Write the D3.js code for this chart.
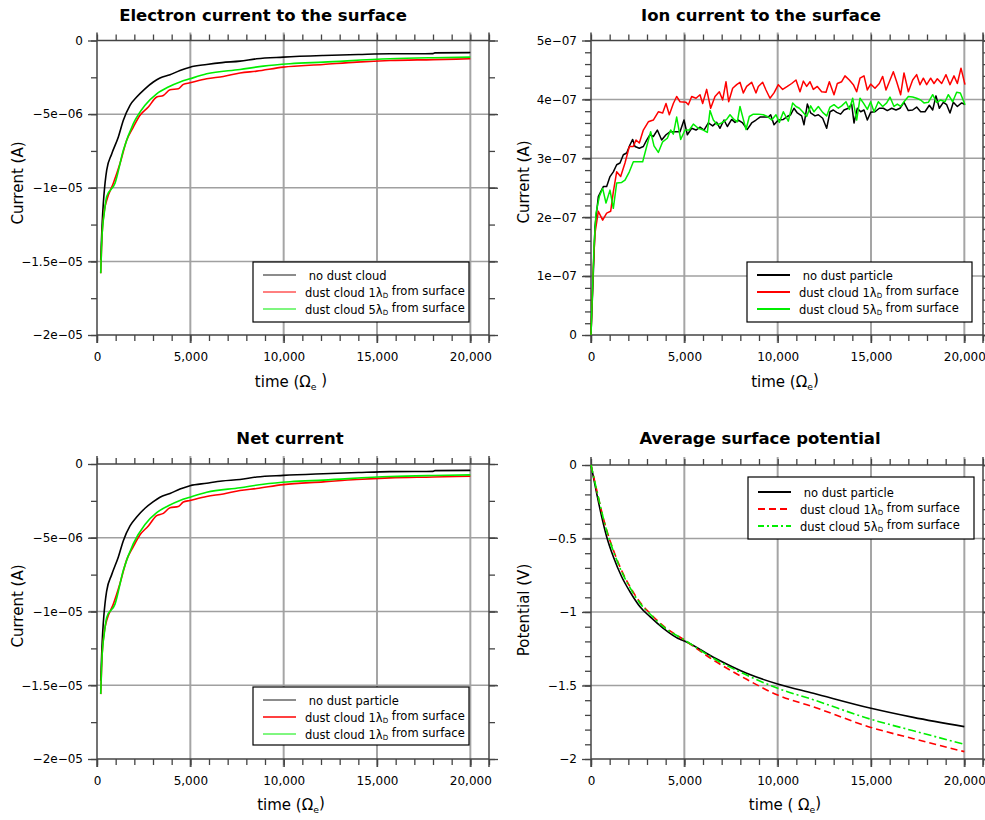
<!DOCTYPE html>
<html>
<head>
<meta charset="utf-8">
<script src="https://cdn.jsdelivr.net/npm/d3@7"></script>
<style>
  body { margin: 0; background: #fff; }
  svg { display: block; }
  text { font-family: "DejaVu Sans", Verdana, sans-serif; fill: #000; }
</style>
</head>
<body>
<svg id="chart" width="985" height="820"></svg>
<script>
// ---- time axis (units of electron gyro-periods) ----
const timeDomain = [0, 21000];
const timeMajor = [0, 5000, 10000, 15000, 20000];
const timeMajorLabels = ["0", "5,000", "10,000", "15,000", "20,000"];
const timeMinor = d3.range(0, 21001, 1000);

// ---- electron current to the surface (µA) : [time, current] ----
const electronNoDust = [[200,-14.9],[260,-12.9],[520,-8.8],[787,-7.7],[1143,-6.55],[1411,-5.42],[1768,-4.4],[2125,-3.84],[2571,-3.28],[3018,-2.82],[3375,-2.55],[3911,-2.33],[4446,-2.03],[4982,-1.81],[5875,-1.63],[6700,-1.5],[7661,-1.4],[8554,-1.24],[9982,-1.13],[12125,-1.02],[14000,-0.95],[15696,-0.9],[17000,-0.9],[18000,-0.89],[18100,-0.84],[20000,-0.82]];
const electronCloud1 = [[200,-15.8],[260,-13.5],[400,-11.5],[520,-10.85],[875,-9.7],[1232,-8.36],[1589,-6.78],[1946,-5.88],[2304,-5.08],[2750,-4.52],[3197,-3.84],[3554,-3.73],[3911,-3.35],[4357,-3.28],[4625,-2.98],[4982,-2.87],[5875,-2.6],[6768,-2.44],[7661,-2.21],[8554,-2.08],[9982,-1.81],[12125,-1.63],[13911,-1.47],[15696,-1.36],[18000,-1.3],[20000,-1.24]];
const electronCloud5 = [[200,-15.8],[260,-13.5],[400,-11.6],[520,-10.6],[964,-9.7],[1411,-7.46],[1946,-5.65],[2571,-4.4],[3197,-3.62],[3821,-3.16],[4446,-2.82],[4982,-2.6],[5875,-2.26],[7661,-1.97],[8911,-1.74],[10339,-1.58],[12125,-1.47],[15696,-1.24],[18000,-1.17],[20000,-1.13]];

// ---- ion current to the surface (1e-7 A) ----
const ionNoDust = [[0,0],[125,1.05],[214,1.84],[393,2.35],[518,2.43],[661,2.52],[839,2.52],[1018,2.69],[1196,2.77],[1375,2.89],[1554,2.92],[1732,3.06],[1911,3.09],[2089,3.23],[2232,3.32],[2357,3.2],[2589,3.17],[2804,3.2],[2982,3.31],[3161,3.4],[3339,3.37],[3554,3.48],[3786,3.31],[4018,3.4],[4232,3.45],[4500,3.45],[4768,3.45],[4982,3.65],[5161,3.4],[5393,3.51],[5625,3.48],[5839,3.53],[6054,3.48],[6286,3.6],[6518,3.55],[6732,3.61],[6911,3.51],[7125,3.65],[7304,3.54],[7536,3.66],[7714,3.61],[7893,3.65],[8125,3.6],[8375,3.49],[8607,3.6],[8839,3.65],[9054,3.7],[9268,3.7],[9500,3.7],[9625,3.74],[9804,3.57],[10036,3.65],[10304,3.66],[10518,3.71],[10696,3.74],[10875,3.85],[11054,3.77],[11286,3.72],[11411,3.57],[11589,3.92],[11768,3.77],[12000,3.72],[12179,3.74],[12411,3.68],[12625,3.51],[12804,3.79],[12982,3.82],[13161,3.78],[13375,3.75],[13554,3.82],[13786,3.85],[13964,3.92],[14089,3.6],[14268,3.85],[14446,3.79],[14625,3.82],[14804,3.65],[14982,3.78],[15214,3.79],[15446,3.85],[15661,3.85],[15875,3.81],[16107,3.85],[16339,3.82],[16554,3.85],[16768,3.95],[17000,3.81],[17232,3.82],[17446,3.87],[17661,3.79],[17893,3.79],[18125,3.9],[18304,3.82],[18482,4.06],[18661,3.85],[18875,3.95],[19054,3.91],[19232,3.77],[19411,3.95],[19625,3.88],[19857,3.94],[20036,3.91]];
const ionCloud1 = [[0,0],[125,1.16],[214,1.73],[393,2.1],[625,1.95],[839,2.07],[1054,2.1],[1196,2.43],[1375,2.77],[1589,2.69],[1821,2.92],[2054,3.2],[2268,3.2],[2411,3.31],[2589,3.26],[2804,3.48],[3071,3.62],[3339,3.65],[3607,3.79],[3839,3.77],[4018,3.93],[4196,3.74],[4411,3.93],[4589,4.05],[4768,3.96],[5089,3.95],[5214,3.91],[5393,4.05],[5625,4.02],[5839,4.08],[5982,3.93],[6196,4.17],[6411,3.85],[6643,4.05],[6875,4.13],[7054,3.99],[7232,4.3],[7375,3.96],[7589,4.19],[7804,4.25],[7982,4.29],[8161,4.11],[8339,4.22],[8607,4.29],[8839,4.11],[8964,4.22],[9196,4.29],[9375,4.16],[9589,4.02],[9804,4.11],[10036,4.25],[10268,4.17],[10518,4.22],[10750,4.27],[10982,4.33],[11196,4.13],[11375,4.31],[11554,4.22],[11732,4.3],[11911,4.17],[12125,4.22],[12357,4.13],[12589,4.12],[12768,4.3],[13018,4.08],[13196,4.27],[13429,4.3],[13607,4.4],[13839,4.33],[14054,4.25],[14232,4.13],[14411,4.36],[14625,4.4],[14804,4.16],[14982,4.26],[15214,4.19],[15446,4.27],[15625,4.39],[15804,4.16],[15982,4.3],[16196,4.47],[16375,4.3],[16589,4.08],[16768,4.45],[17000,4.13],[17232,4.33],[17446,4.42],[17625,4.25],[17804,4.36],[17982,4.25],[18196,4.36],[18375,4.27],[18554,4.35],[18786,4.27],[19018,4.42],[19232,4.25],[19446,4.4],[19625,4.27],[19821,4.53],[20036,4.25]];
const ionCloud5 = [[0,0],[161,1.5],[268,2.07],[446,2.35],[625,2.49],[804,2.24],[1018,2.46],[1196,2.15],[1375,2.58],[1643,2.59],[1821,2.63],[2054,2.77],[2268,2.94],[2482,2.94],[2768,2.94],[2982,3.2],[3196,3.45],[3375,3.21],[3607,3.1],[3839,3.28],[4089,3.34],[4268,3.48],[4411,3.41],[4589,3.7],[4804,3.32],[5036,3.48],[5268,3.48],[5482,3.58],[5750,3.51],[6018,3.48],[6232,3.44],[6375,3.81],[6554,3.65],[6768,3.57],[7000,3.6],[7268,3.66],[7446,3.74],[7661,3.66],[7839,3.62],[7982,3.88],[8161,3.66],[8304,3.49],[8482,3.71],[8696,3.75],[8964,3.75],[9232,3.74],[9446,3.71],[9679,3.65],[9911,3.74],[10089,3.61],[10304,3.79],[10571,3.63],[10804,3.94],[10982,3.88],[11161,3.85],[11339,3.79],[11554,3.71],[11768,3.89],[11946,3.79],[12179,3.88],[12411,3.78],[12625,3.72],[12804,3.87],[13018,3.91],[13250,3.85],[13429,3.89],[13661,3.96],[13839,3.83],[14018,4.02],[14232,3.65],[14411,4.02],[14589,3.94],[14804,3.83],[14982,3.96],[15161,3.79],[15393,3.96],[15625,3.88],[15839,3.94],[16018,4.04],[16232,3.88],[16411,3.92],[16589,3.88],[16768,3.96],[17000,4.05],[17232,4.04],[17446,4.02],[17661,3.99],[17839,3.94],[18071,3.95],[18304,4.08],[18518,3.95],[18732,3.99],[18964,3.96],[19143,4.08],[19375,3.96],[19589,4.12],[19786,4.11],[20036,3.91]];

// ---- net current (µA) ----
const netNoDust = [[200,-14.7],[260,-12.6],[520,-8.6],[787,-7.5],[1143,-6.3],[1411,-5.2],[1768,-4.2],[2125,-3.6],[2571,-3.0],[3018,-2.55],[3375,-2.25],[3911,-2.0],[4446,-1.7],[4982,-1.47],[5875,-1.3],[6700,-1.15],[7661,-1.05],[8554,-0.88],[9982,-0.77],[12125,-0.66],[14000,-0.58],[15696,-0.52],[17000,-0.51],[18000,-0.5],[18100,-0.45],[20000,-0.43]];
const netCloud1 = [[200,-15.6],[260,-13.3],[400,-11.3],[520,-10.6],[875,-9.5],[1232,-8.1],[1589,-6.5],[1946,-5.6],[2304,-4.8],[2750,-4.2],[3197,-3.5],[3554,-3.35],[3911,-2.97],[4357,-2.88],[4625,-2.58],[4982,-2.47],[5875,-2.2],[6768,-2.03],[7661,-1.8],[8554,-1.66],[9982,-1.4],[12125,-1.21],[13911,-1.05],[15696,-0.94],[18000,-0.88],[20000,-0.82]];
const netCloud5 = [[200,-15.6],[260,-13.3],[400,-11.4],[520,-10.4],[964,-9.5],[1411,-7.2],[1946,-5.4],[2571,-4.1],[3197,-3.3],[3821,-2.83],[4446,-2.47],[4982,-2.25],[5875,-1.91],[7661,-1.61],[8911,-1.37],[10339,-1.2],[12125,-1.09],[15696,-0.85],[18000,-0.78],[20000,-0.74]];

// ---- average surface potential (V) ----
const potNoDust = [[0,0],[304,-0.193],[571,-0.351],[839,-0.488],[1196,-0.624],[1643,-0.76],[2089,-0.862],[2625,-0.964],[3161,-1.032],[3875,-1.111],[4768,-1.186],[5000,-1.197],[6554,-1.308],[8339,-1.417],[10000,-1.49],[11911,-1.553],[15000,-1.655],[17268,-1.717],[20000,-1.78]];
const potCloud1 = [[0,0],[304,-0.17],[571,-0.317],[839,-0.442],[1196,-0.578],[1643,-0.719],[2089,-0.828],[2625,-0.934],[3161,-1.009],[3875,-1.095],[5000,-1.19],[6554,-1.327],[8339,-1.458],[10000,-1.565],[11911,-1.645],[15000,-1.785],[17268,-1.862],[20000,-1.95]];
const potCloud5 = [[0,0],[304,-0.17],[839,-0.447],[1196,-0.585],[1643,-0.726],[2089,-0.834],[2625,-0.941],[3161,-1.014],[3875,-1.1],[5000,-1.19],[6554,-1.315],[8339,-1.429],[10000,-1.519],[11911,-1.597],[15000,-1.73],[17268,-1.808],[20000,-1.9]];

// ---- y tick values and labels ----
const currentTicks = [0, -5, -10, -15, -20];
const currentTickLabels = ["0", "\u22125e\u221206", "\u22121e\u221205", "\u22121.5e\u221205", "\u22122e\u221205"];
const currentMinor = d3.range(-20, 0.01, 2.5);
const ionTicks = [0, 1, 2, 3, 4, 5];
const ionTickLabels = ["0", "1e\u221207", "2e\u221207", "3e\u221207", "4e\u221207", "5e\u221207"];
const ionMinor = d3.range(0, 5.01, 0.2);
const potTicks = [0, -0.5, -1, -1.5, -2];
const potTickLabels = ["0", "\u22120.5", "\u22121", "\u22121.5", "\u22122"];
const potMinor = d3.range(-2, 0.01, 0.1);

const svg = d3.select("#chart");
const RED = "#ff0000", GREEN = "#00ee00";

function addSubText(sel, parts) {
  // parts alternate: normal text, subscript, normal text ...
  parts.forEach((p, i) => {
    const t = sel.append("tspan").text(p);
    if (i % 2 === 1) t.attr("font-size", "0.62em").attr("dy", "0.28em");
    else if (i > 0) t.attr("dy", "-0.28em");
  });
}

function drawPanel(p) {
  const g = svg.append("g");
  const x = d3.scaleLinear().domain(timeDomain).range([p.left, p.right]);
  const y = d3.scaleLinear().domain(p.yDomain).range([p.bottom, p.top]);
  const [y0, y1] = p.yDomain;

  // grid
  g.append("g").selectAll("line").data(timeMajor.filter(t => t > 0)).join("line")
    .attr("x1", d => x(d)).attr("x2", d => x(d))
    .attr("y1", p.top - 8).attr("y2", p.bottom + 8)
    .attr("stroke", "#a5a5a5").attr("stroke-width", 2);
  g.append("g").selectAll("line").data(p.yTicks.filter(v => v !== y0 && v !== y1)).join("line")
    .attr("x1", p.left - 8).attr("x2", p.right + 8)
    .attr("y1", d => y(d)).attr("y2", d => y(d))
    .attr("stroke", "#a0a0a0").attr("stroke-width", 1.5);

  // axes: labelled left/bottom, plain top/right
  const styleAxis = a => {
    a.select(".domain").remove();
    a.selectAll(".tick line").attr("stroke", "#444").attr("stroke-width", 1.3);
    a.selectAll("text").attr("font-family", "DejaVu Sans").attr("font-size", 12).attr("fill", "#000");
  };
  const yLabelOf = d => p.yTickLabels[p.yTicks.indexOf(d)];
  const xLabelOf = d => timeMajorLabels[timeMajor.indexOf(d)];

  g.append("g").attr("transform", `translate(0,${p.bottom})`)
    .call(d3.axisBottom(x).tickValues(timeMinor).tickSize(6).tickFormat("")).call(styleAxis);
  g.append("g").attr("transform", `translate(0,${p.bottom})`)
    .call(d3.axisBottom(x).tickValues(timeMajor).tickSize(8).tickPadding(9).tickFormat(xLabelOf)).call(styleAxis);
  g.append("g").attr("transform", `translate(0,${p.top})`)
    .call(d3.axisTop(x).tickValues(timeMinor).tickSize(6).tickFormat("")).call(styleAxis);
  g.append("g").attr("transform", `translate(${p.left},0)`)
    .call(d3.axisLeft(y).tickValues(p.yMinor).tickSize(6).tickFormat("")).call(styleAxis);
  g.append("g").attr("transform", `translate(${p.left},0)`)
    .call(d3.axisLeft(y).tickValues(p.yTicks).tickSize(9).tickPadding(5).tickFormat(yLabelOf)).call(styleAxis);
  g.append("g").attr("transform", `translate(${p.right},0)`)
    .call(d3.axisRight(y).tickValues(p.yMinor).tickSize(6).tickFormat("")).call(styleAxis);
  g.append("g").attr("transform", `translate(${p.right},0)`)
    .call(d3.axisRight(y).tickValues(p.yTicks).tickSize(9).tickFormat("")).call(styleAxis);

  // frame
  const frame = g.append("g").attr("stroke", "#444").attr("stroke-width", 1.5);
  frame.append("line").attr("x1", p.left).attr("x2", p.left).attr("y1", p.top - 8).attr("y2", p.bottom + 8);
  frame.append("line").attr("x1", p.right).attr("x2", p.right).attr("y1", p.top - 8).attr("y2", p.bottom + 8);
  frame.append("line").attr("x1", p.left).attr("x2", p.right).attr("y1", p.top).attr("y2", p.top);
  frame.append("line").attr("x1", p.left).attr("x2", p.right).attr("y1", p.bottom).attr("y2", p.bottom);

  // series
  const line = d3.line().x(d => x(d[0])).y(d => y(d[1])).curve(p.curve || d3.curveLinear);
  p.series.forEach(s => {
    g.append("path").datum(s.data).attr("d", line).attr("fill", "none")
      .attr("stroke", s.color).attr("stroke-width", s.width)
      .attr("stroke-dasharray", s.dash || null).attr("stroke-linejoin", "round");
  });

  // title and axis labels
  g.append("text").attr("x", p.titleX).attr("y", p.titleY).attr("text-anchor", "middle")
    .attr("font-weight", "bold").attr("font-size", 16.5).text(p.title);
  const xl = g.append("text").attr("x", p.xLabelX).attr("y", p.xLabelY).attr("text-anchor", "middle")
    .attr("font-size", 15);
  addSubText(xl, p.xLabel);
  g.append("text").attr("transform", `translate(${p.yLabelX},${p.yLabelY}) rotate(-90)`)
    .attr("text-anchor", "middle").attr("font-size", 15).text(p.yLabel);

  // legend
  const L = p.legend;
  const lg = g.append("g");
  lg.append("rect").attr("x", L.x).attr("y", L.y).attr("width", L.w).attr("height", L.h)
    .attr("fill", "#fff").attr("stroke", "#000").attr("stroke-width", 1.2);
  L.items.forEach((it, i) => {
    const cy = L.y + L.first + i * L.step;
    lg.append("line").attr("x1", L.x + 10).attr("x2", L.x + 43).attr("y1", cy).attr("y2", cy)
      .attr("stroke", it.color).attr("stroke-width", it.width).attr("stroke-dasharray", it.dash || null);
    const t = lg.append("text").attr("x", L.x + 52).attr("y", cy + 4.5).attr("font-size", 11.5)
      .attr("xml:space", "preserve");
    addSubText(t, it.label);
  });
}

const labelNoCloud = [" no dust cloud"];
const labelNoParticle = [" no dust particle"];
const label1 = ["dust cloud 1\u03bb", "D", " from surface"];
const label5 = ["dust cloud 5\u03bb", "D", " from surface"];

drawPanel({
  left: 97, right: 489, top: 40.5, bottom: 335,
  yDomain: [-20, 0], yTicks: currentTicks, yTickLabels: currentTickLabels, yMinor: currentMinor,
  title: "Electron current to the surface", titleX: 263, titleY: 21,
  xLabel: ["time (\u03a9", "e", " )"], xLabelX: 291, xLabelY: 387,
  yLabel: "Current (A)", yLabelX: 23, yLabelY: 183,
  curve: d3.curveMonotoneX,
  series: [
    { data: electronNoDust, color: "#000", width: 1.6 },
    { data: electronCloud1, color: RED, width: 1.6 },
    { data: electronCloud5, color: GREEN, width: 1.6 }
  ],
  legend: { x: 253, y: 262, w: 216, h: 60, first: 13, step: 17, items: [
    { label: labelNoCloud, color: "#666", width: 1.6 },
    { label: label1, color: RED, width: 1 },
    { label: label5, color: GREEN, width: 1.2 }
  ]}
});

drawPanel({
  left: 591, right: 983, top: 40.5, bottom: 335,
  yDomain: [0, 5], yTicks: ionTicks, yTickLabels: ionTickLabels, yMinor: ionMinor,
  title: "Ion current to the surface", titleX: 761, titleY: 21,
  xLabel: ["time (\u03a9", "e", ")"], xLabelX: 785, xLabelY: 387,
  yLabel: "Current (A)", yLabelX: 529, yLabelY: 182,
  series: [
    { data: ionNoDust, color: "#000", width: 1.5 },
    { data: ionCloud1, color: RED, width: 1.5 },
    { data: ionCloud5, color: GREEN, width: 1.5 }
  ],
  legend: { x: 747, y: 262, w: 225, h: 60, first: 13, step: 17, items: [
    { label: labelNoParticle, color: "#000", width: 2 },
    { label: label1, color: RED, width: 2 },
    { label: label5, color: GREEN, width: 2 }
  ]}
});

drawPanel({
  left: 97, right: 489, top: 464, bottom: 759,
  yDomain: [-20, 0], yTicks: currentTicks, yTickLabels: currentTickLabels, yMinor: currentMinor,
  title: "Net current", titleX: 290, titleY: 444,
  xLabel: ["time (\u03a9", "e", ")"], xLabelX: 291, xLabelY: 810,
  yLabel: "Current (A)", yLabelX: 23, yLabelY: 606,
  curve: d3.curveMonotoneX,
  series: [
    { data: netNoDust, color: "#000", width: 1.6 },
    { data: netCloud1, color: RED, width: 1.6 },
    { data: netCloud5, color: GREEN, width: 1.6 }
  ],
  legend: { x: 253, y: 687, w: 216, h: 58, first: 13, step: 17, items: [
    { label: labelNoParticle, color: "#666", width: 1.6 },
    { label: ["dust cloud 1\u03bb", "D", " from surface"], color: RED, width: 1.6 },
    { label: ["dust cloud 1\u03bb", "D", " from surface"], color: GREEN, width: 1 }
  ]}
});

drawPanel({
  left: 591, right: 983, top: 465, bottom: 759,
  yDomain: [-2, 0], yTicks: potTicks, yTickLabels: potTickLabels, yMinor: potMinor,
  title: "Average surface potential", titleX: 760, titleY: 444,
  xLabel: ["time ( \u03a9", "e", ")"], xLabelX: 785, xLabelY: 810,
  yLabel: "Potential (V)", yLabelX: 529, yLabelY: 610,
  curve: d3.curveMonotoneX,
  series: [
    { data: potNoDust, color: "#000", width: 1.6 },
    { data: potCloud1, color: RED, width: 1.6, dash: "7,4" },
    { data: potCloud5, color: GREEN, width: 1.6, dash: "8,3,2,3" }
  ],
  legend: { x: 748, y: 477, w: 226, h: 62, first: 15, step: 17, items: [
    { label: labelNoParticle, color: "#000", width: 2 },
    { label: label1, color: RED, width: 2, dash: "7,4" },
    { label: label5, color: GREEN, width: 2, dash: "6,3,2,3" }
  ]}
});
</script>
</body>
</html>
